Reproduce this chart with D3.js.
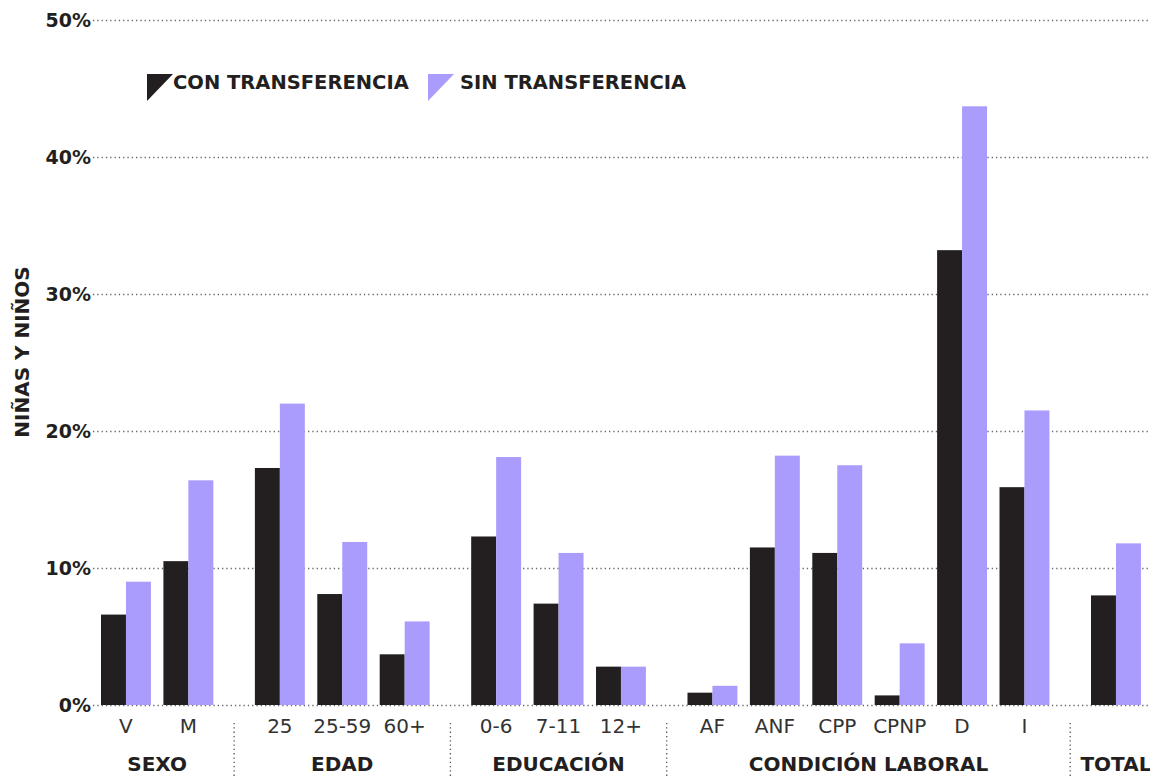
<!DOCTYPE html>
<html>
<head>
<meta charset="utf-8">
<script src="https://cdn.jsdelivr.net/npm/d3@7"></script>
<style>
  body { margin: 0; background: #fff; }
  text { font-family: "DejaVu Sans", sans-serif; fill: #231f20; }
</style>
</head>
<body>
<div id="chart"></div>
<script>
// datos (% de niñas y niños)
var groups = ["SEXO", "EDAD", "EDUCACIÓN", "CONDICIÓN LABORAL", "TOTAL"];
var categories = ["V", "M", "25", "25-59", "60+", "0-6", "7-11", "12+", "AF", "ANF", "CPP", "CPNP", "D", "I", ""];
var categoryGroup = [0, 0, 1, 1, 1, 2, 2, 2, 3, 3, 3, 3, 3, 3, 4];
var conTransferencia = [6.6, 10.5, 17.3, 8.1, 3.7, 12.3, 7.4, 2.8, 0.9, 11.5, 11.1, 0.7, 33.2, 15.9, 8.0];
var sinTransferencia = [9.0, 16.4, 22.0, 11.9, 6.1, 18.1, 11.1, 2.8, 1.4, 18.2, 17.5, 4.5, 43.7, 21.5, 11.8];
var seriesNames = ["CON TRANSFERENCIA", "SIN TRANSFERENCIA"];
var yTicks = [0, 10, 20, 30, 40, 50];

var colors = ["#231f20", "#a99cfd"];
var W = 1150, H = 776;
var groupGap = 0.466; // hueco extra entre grupos, en ranuras

var svg = d3.select("#chart").append("svg")
    .attr("width", W)
    .attr("height", H);

var slot = function (i) { return i + categoryGroup[i] * groupGap; };
var lastSlot = slot(categories.length - 1);

var x = d3.scaleLinear()
    .domain([0, lastSlot])
    .range([101, 1091]);
var y = d3.scaleLinear()
    .domain([0, 50])
    .range([705, 20]);
var barW = x(0.4) - x(0);

//----------grilla y eje Y----------
var yAxis = d3.axisLeft(y)
    .tickValues(yTicks)
    .tickSize(-(W - 93))
    .tickFormat(function (d) { return d + "%"; });
var gy = svg.append("g")
    .attr("class", "y axis")
    .attr("transform", "translate(93,0)")
    .call(yAxis);
gy.select(".domain").remove();
gy.selectAll(".tick line")
    .attr("stroke", "#666")
    .attr("stroke-width", 1.3)
    .attr("stroke-dasharray", "1.3,3");
gy.selectAll(".tick text")
    .attr("x", -2)
    .attr("dy", "0.36em")
    .style("font-size", "19px")
    .style("font-weight", 700)
    .style("fill", "#231f20");

svg.append("text")
    .attr("transform", "translate(29,352) rotate(-90)")
    .attr("text-anchor", "middle")
    .style("font-size", "20px")
    .style("font-weight", 700)
    .text("NIÑAS Y NIÑOS");

//----------barras----------
var series = [conTransferencia, sinTransferencia];
series.forEach(function (vals, s) {
    svg.append("g").selectAll("rect")
        .data(vals)
        .enter().append("rect")
        .attr("x", function (d, i) { return x(slot(i)) + s * barW; })
        .attr("y", function (d) { return y(d); })
        .attr("width", barW)
        .attr("height", function (d) { return y(0) - y(d); })
        .attr("fill", colors[s]);
});

//----------etiquetas de categoría----------
svg.append("g").selectAll("text")
    .data(categories)
    .enter().append("text")
    .attr("x", function (d, i) { return x(slot(i)) + barW; })
    .attr("y", 733)
    .attr("text-anchor", "middle")
    .style("font-size", "20px")
    .style("fill", "#333")
    .text(function (d) { return d; });

// límites de cada grupo
var groupExtent = groups.map(function (g, gi) {
    var idx = d3.range(categories.length).filter(function (i) { return categoryGroup[i] === gi; });
    return [x(slot(d3.min(idx))), x(slot(d3.max(idx))) + 2 * barW];
});

svg.append("g").selectAll("text")
    .data(groups)
    .enter().append("text")
    .attr("x", function (d, i) { return (groupExtent[i][0] + groupExtent[i][1]) / 2; })
    .attr("y", 771)
    .attr("text-anchor", "middle")
    .style("font-size", "20px")
    .style("font-weight", 700)
    .text(function (d) { return d; });

svg.append("g").selectAll("line")
    .data(groupExtent.slice(1))
    .enter().append("line")
    .attr("x1", function (d, i) { return (groupExtent[i][1] + d[0]) / 2; })
    .attr("x2", function (d, i) { return (groupExtent[i][1] + d[0]) / 2; })
    .attr("y1", 723)
    .attr("y2", H)
    .attr("stroke", "#555")
    .attr("stroke-width", 1.3)
    .attr("stroke-dasharray", "1.3,3");

//----------leyenda----------
var legendX = [147, 428];
var legend = svg.append("g").selectAll("g")
    .data(seriesNames)
    .enter().append("g")
    .attr("transform", function (d, i) { return "translate(" + legendX[i] + ",74)"; });
legend.append("path")
    .attr("d", "M0,0H26L0,27Z")
    .attr("fill", function (d, i) { return colors[i]; });
legend.append("text")
    .attr("x", function (d, i) { return i === 0 ? 26 : 32; })
    .attr("y", 15)
    .style("font-size", "19.5px")
    .style("font-weight", 700)
    .text(function (d) { return d; });
</script>
</body>
</html>
